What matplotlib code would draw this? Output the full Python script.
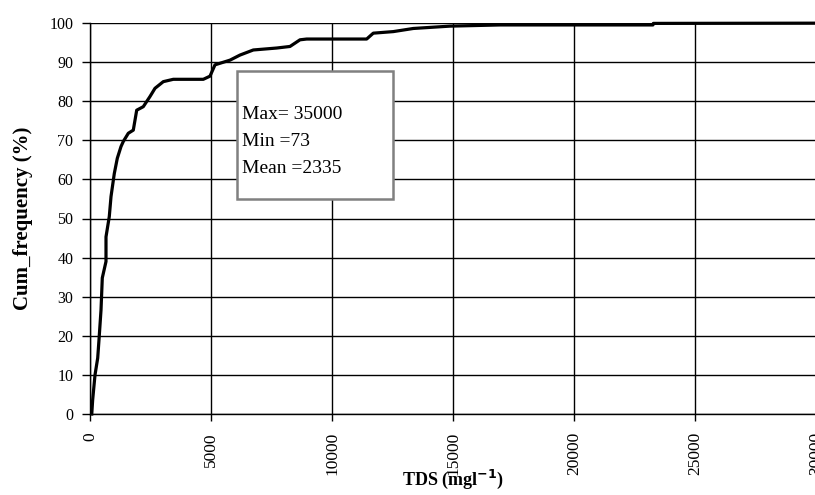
import matplotlib
matplotlib.use("Agg")
import matplotlib.pyplot as plt
from matplotlib.patches import Rectangle

# cumulative frequency curve
tds = [73, 110, 207, 318, 372, 455, 508, 661, 661, 797, 868, 1004, 1128, 1281,
       1376, 1583, 1789, 1930, 2202, 2479, 2686, 3029, 3442, 4682, 4958, 5165,
       5785, 6198, 6748, 7715, 8264, 8677, 8954, 11433, 11706, 12532, 13359,
       14875, 16941, 23264, 23277, 35000]
cum_freq = [0, 3.6, 10, 14.3, 19, 26.6, 34.8, 39, 45.3, 50.5, 55.6, 61.5, 65.4,
            68.4, 69.7, 71.8, 72.6, 77.7, 78.6, 81.2, 83.3, 85, 85.6, 85.6, 86.4,
            89.3, 90.5, 91.8, 93.1, 93.6, 94, 95.7, 95.9, 95.9, 97.4, 97.8, 98.6,
            99.2, 99.5, 99.5, 99.9, 100]

x_ticks = [0, 5000, 10000, 15000, 20000, 25000, 30000]
y_ticks = list(range(0, 101, 10))
stats_lines = ["Max= 35000", "Min =73", "Mean =2335"]

plt.rcParams["font.family"] = ["Liberation Serif", "DejaVu Serif"]

fig = plt.figure(figsize=(8.15, 4.95), dpi=100)
ax = fig.add_axes([90 / 815, 81 / 495, 726 / 815, 391 / 495])

ax.plot(tds, cum_freq, color="black", lw=2.3, zorder=3, clip_on=False)

ax.set_xlim(0, 30000)
ax.set_ylim(0, 100)
ax.set_xticks(x_ticks)
ax.set_yticks(y_ticks)
ax.set_xticklabels([str(t) for t in x_ticks], rotation=90, fontsize=12.5)
ax.set_yticklabels([str(t) for t in y_ticks], fontsize=11.5)
ax.tick_params(axis="x", direction="out", length=5, width=1, pad=8)
ax.tick_params(axis="y", direction="out", length=6, width=1, pad=6)

ax.grid(True, color="black", lw=1.0)
for side in ["top", "right"]:
    ax.spines[side].set_visible(False)
ax.spines["left"].set_linewidth(1.0)
ax.spines["bottom"].set_linewidth(1.0)

ax.set_ylabel("Cum_frequency (%)", fontsize=15, fontweight="bold")
ax.yaxis.set_label_coords(-0.079, 0.5)
ax.set_xlabel("TDS (mgl$^{\\mathbf{-1}}$)", fontsize=13, fontweight="bold")
ax.xaxis.set_label_coords(0.5, -0.138)

box = Rectangle((0.202, 0.550), 0.215, 0.327, transform=ax.transAxes,
                facecolor="white", edgecolor="#808080", lw=1.8, zorder=4)
ax.add_patch(box)
for line, yy in zip(stats_lines, [0.765, 0.697, 0.627]):
    ax.text(0.210, yy, line, transform=ax.transAxes, fontsize=14,
            va="center", ha="left", zorder=5)

fig.savefig("out.png", dpi=100)
